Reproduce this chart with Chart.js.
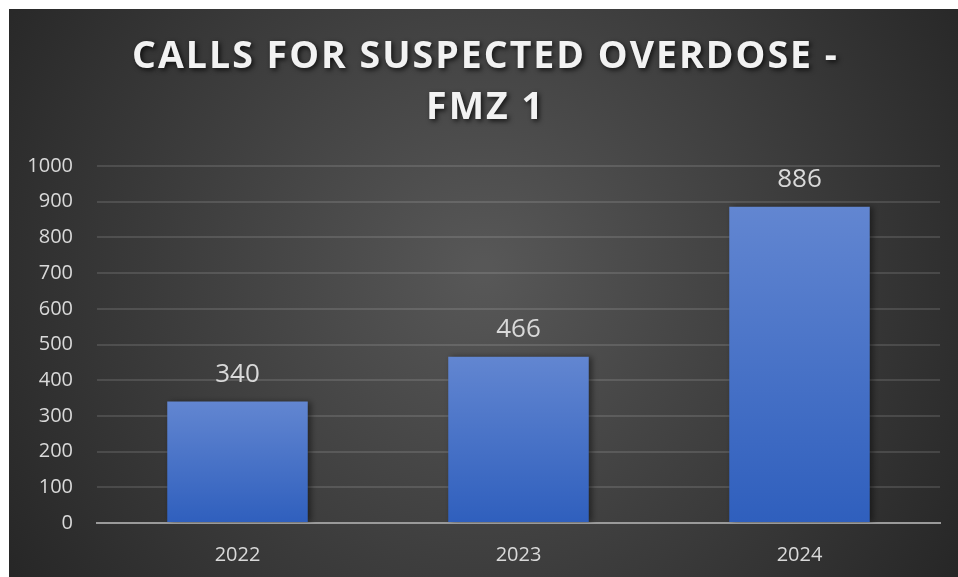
<!DOCTYPE html>
<html>
<head>
<meta charset="utf-8">
<script src="https://cdn.jsdelivr.net/npm/chart.js@4.4.1/dist/chart.umd.min.js"></script>
<style>
  html, body { margin: 0; padding: 0; background: #ffffff; }
  #wrap { position: absolute; left: 9px; top: 9px; width: 949px; height: 568px; }
  canvas { display: block; }
</style>
</head>
<body>
<div id="wrap"><canvas id="c" width="949" height="568"></canvas></div>
<script>
const categories = ['2022', '2023', '2024'];
const callCounts = [340, 466, 886];
const titleLines = ['CALLS FOR SUSPECTED OVERDOSE -', 'FMZ 1'];
const yMin = 0, yMax = 1000, yStep = 100;

const bgPlugin = {
  id: 'bgPlugin',
  beforeDraw(chart) {
    const { ctx, width, height } = chart;
    ctx.save();
    const g = ctx.createRadialGradient(width * 0.5, height * 0.46, 10, width * 0.5, height * 0.46, width * 0.6);
    g.addColorStop(0, '#575757');
    g.addColorStop(1, '#262626');
    ctx.fillStyle = g;
    ctx.fillRect(0, 0, width, height);
    ctx.restore();
  }
};

const titleStylePlugin = {
  id: 'titleStyle',
  afterLayout(chart) {
    const tb = chart.titleBlock;
    if (tb && !tb._patched) {
      const orig = tb.draw;
      tb.draw = function () {
        const ctx = chart.ctx;
        ctx.save();
        ctx.translate(11, 0);
        ctx.letterSpacing = '2px';
        ctx.shadowColor = 'rgba(0,0,0,0.75)';
        ctx.shadowBlur = 5;
        ctx.shadowOffsetX = 2;
        ctx.shadowOffsetY = 2;
        orig.apply(this, arguments);
        ctx.restore();
      };
      tb._patched = true;
    }
  }
};

const barShadowPlugin = {
  id: 'barShadow',
  beforeDatasetsDraw(chart) {
    const ctx = chart.ctx;
    ctx.save();
    ctx.shadowColor = 'rgba(0,0,0,0.45)';
    ctx.shadowBlur = 6;
    ctx.shadowOffsetX = 3;
    ctx.shadowOffsetY = 0;
  },
  afterDatasetsDraw(chart) {
    chart.ctx.restore();
  }
};

const valueLabelPlugin = {
  id: 'valueLabels',
  afterDatasetsDraw(chart) {
    const ctx = chart.ctx;
    ctx.save();
    ctx.font = '26px "Open Sans"';
    ctx.fillStyle = '#d9d9d9';
    ctx.textAlign = 'center';
    ctx.textBaseline = 'bottom';
    chart.data.datasets.forEach((ds, i) => {
      const meta = chart.getDatasetMeta(i);
      meta.data.forEach((bar, j) => {
        ctx.fillText(String(ds.data[j]), bar.x, bar.y - 14);
      });
    });
    ctx.restore();
  }
};

function barGradient(context) {
  const chart = context.chart;
  const { chartArea, scales } = chart;
  if (!chartArea || !scales.y) return '#4472c4';
  const v = context.raw;
  const top = scales.y.getPixelForValue(v);
  const base = scales.y.getPixelForValue(0);
  const g = chart.ctx.createLinearGradient(0, top, 0, base);
  g.addColorStop(0, '#6286d1');
  g.addColorStop(1, '#2f5fbd');
  return g;
}

new Chart(document.getElementById('c'), {
  type: 'bar',
  data: {
    labels: categories,
    datasets: [{
      label: 'Calls',
      data: callCounts,
      backgroundColor: barGradient,
      borderWidth: 0,
      barPercentage: 0.5,
      categoryPercentage: 1.0
    }]
  },
  options: {
    responsive: false,
    animation: false,
    layout: { padding: { left: 0, right: 18, top: 0, bottom: 0 } },
    plugins: {
      legend: { display: false },
      tooltip: { enabled: false },
      title: {
        display: true,
        text: titleLines,
        color: '#f2f2f2',
        font: { family: '"Open Sans"', size: 37.5, weight: 'bold', lineHeight: 1.36 },
        padding: { top: 23, bottom: 32 }
      }
    },
    scales: {
      x: {
        grid: { display: false, drawTicks: false },
        border: { display: true, color: '#9a9a9a', width: 2 },
        ticks: { color: '#d9d9d9', font: { family: '"Open Sans"', size: 20 }, padding: 20 },
        afterFit(scale) { scale.height = 54; }
      },
      y: {
        min: yMin,
        max: yMax,
        ticks: {
          stepSize: yStep,
          color: '#d9d9d9',
          font: { family: '"Open Sans"', size: 20 },
          padding: 24,
          callback: (v) => String(v)
        },
        grid: { color: 'rgba(255,255,255,0.12)', lineWidth: 2, drawTicks: false },
        border: { display: false },
        afterFit(scale) { scale.width = 88; }
      }
    }
  },
  plugins: [bgPlugin, titleStylePlugin, barShadowPlugin, valueLabelPlugin]
});
</script>
</body>
</html>
